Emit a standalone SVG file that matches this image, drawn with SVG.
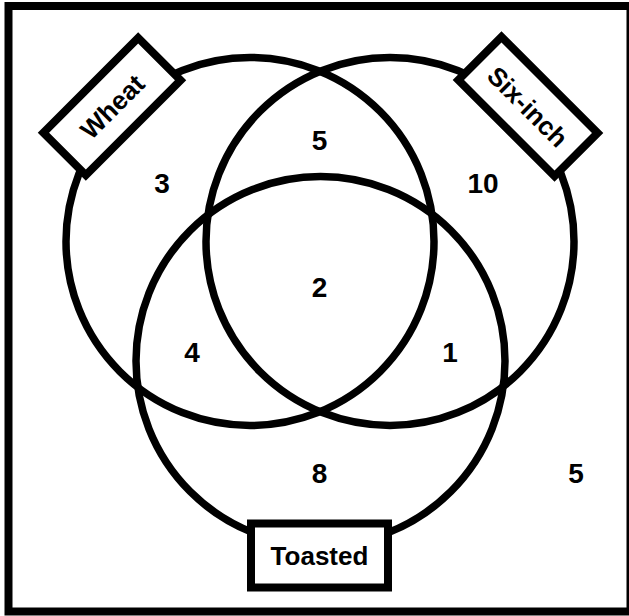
<svg xmlns="http://www.w3.org/2000/svg" width="629" height="616" viewBox="0 0 629 616">
<style>
.c{fill:none;stroke:#000;stroke-width:7.5}
.b{fill:#fff;stroke:#000;stroke-width:8}
.t{font-family:"Liberation Sans",Arial,Helvetica,sans-serif;font-weight:bold;fill:#000;text-anchor:middle}
.l{font-size:26px}
.n{font-size:28px}
</style>
<rect x="0" y="0" width="629" height="616" fill="#fff"/>
<rect x="8.5" y="6" width="622" height="605.5" fill="none" stroke="#000" stroke-width="8"/>
<g id="sets">
<circle id="wheat-circle" class="c" cx="250" cy="241.5" r="184"/>
<circle id="sixinch-circle" class="c" cx="390" cy="241.5" r="184"/>
<circle id="toasted-circle" class="c" cx="320.5" cy="361" r="184.5"/>
</g>
<g id="wheat">
<g transform="translate(112,106.5) rotate(-45)">
<rect class="b" x="-67" y="-30" width="134" height="60"/>
<text class="t l" x="0" y="9.5">Wheat</text>
</g>
</g>
<g id="six-inch">
<g transform="translate(528,106.5) rotate(45)">
<rect class="b" x="-68" y="-30.5" width="136" height="61"/>
<text class="t l" x="0" y="9.5">Six-inch</text>
</g>
</g>
<g id="toasted">
<rect class="b" x="251" y="523.5" width="137" height="64"/>
<text class="t l" x="319.5" y="565">Toasted</text>
</g>
<g id="counts">
<text class="t n" x="162" y="193">3</text>
<text class="t n" x="319.5" y="150">5</text>
<text class="t n" x="483" y="193">10</text>
<text class="t n" x="319.5" y="297">2</text>
<text class="t n" x="192" y="362">4</text>
<text class="t n" x="450" y="362">1</text>
<text class="t n" x="319.5" y="483">8</text>
<text class="t n" x="576" y="483">5</text>
</g>
</svg>
